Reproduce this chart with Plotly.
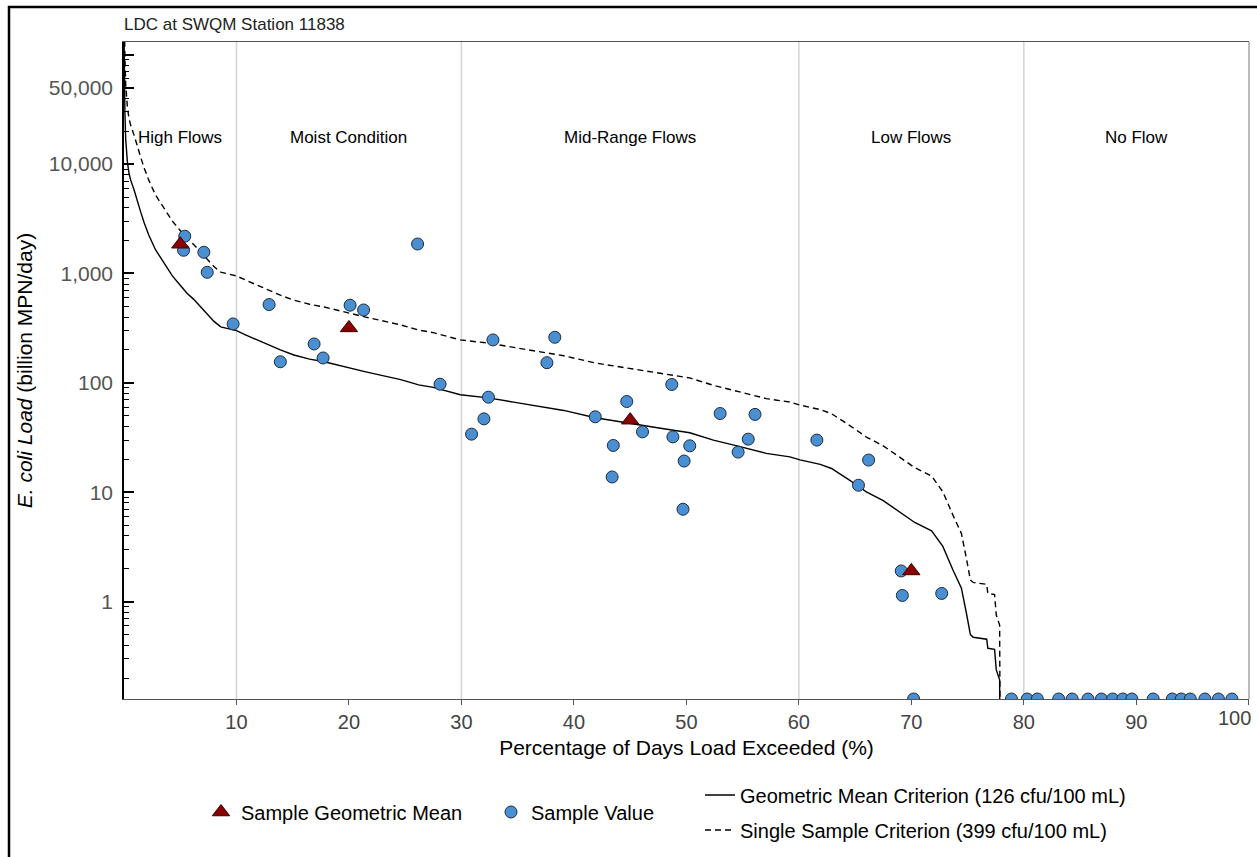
import numpy as np
import plotly.graph_objects as go

# ---------------- data ----------------
curve_pct = [0.0, 0.03, 0.08, 0.15, 0.3, 0.45, 0.6, 0.9, 1.2, 1.5, 1.8, 2.2, 2.8, 3.5, 4.3, 5.0,
             5.6, 6.2, 6.8, 7.3, 7.7, 8.0, 8.6, 9.3, 10.0, 10.8, 11.5, 12.5, 13.9, 15.1, 16.5,
             17.8, 19.0, 20.1, 21.5, 23.4, 24.6, 26.2, 27.5, 29.9, 32.4, 34.9, 37.0, 39.1, 41.9,
             45.0, 47.7, 50.3, 52.4, 54.5, 57.1, 59.2, 60.1, 61.9, 62.9, 64.5, 66.0, 67.5, 69.0,
             70.3, 71.8, 72.8, 73.7, 74.45, 74.9, 75.25, 75.5, 76.7, 76.8, 77.4, 77.55, 77.85, 77.9]

geo_mean_criterion_load = [150000, 60000, 30000, 17000, 10500, 8200, 7100, 5800, 4500, 3600, 2900,
                           2250, 1650, 1270, 950, 780, 660, 580, 500, 440, 395, 365, 325, 310, 300,
                           275, 255, 230, 200, 180, 165, 156, 145, 136, 126, 114, 107, 96, 91, 78,
                           73, 66, 61, 56, 48, 43, 38.5, 35, 30, 26.6, 22.7, 21.1, 19.8, 18, 16.5,
                           12.9, 10.1, 8.4, 6.6, 5.3, 4.45, 3.2, 1.95, 1.33, 0.78, 0.50, 0.473,
                           0.454, 0.375, 0.367, 0.238, 0.193, 0.01]

single_sample_criterion_load = [475000, 190000, 95000, 53800, 33250, 25970, 22490, 18370, 14250,
                                11400, 9180, 7130, 5225, 4020, 3010, 2470, 2090, 1837, 1583, 1395,
                                1250, 1156, 1029, 982, 950, 871, 808, 728, 633, 570, 523, 494, 459,
                                431, 399, 361, 339, 304, 288, 247, 231, 209, 193, 177, 152, 136,
                                122, 111, 95, 84.2, 71.9, 66.8, 62.7, 57, 52.3, 40.9, 32, 26.6,
                                20.9, 16.8, 14.1, 10.1, 6.18, 4.21, 2.47, 1.58, 1.5, 1.44, 1.19,
                                1.16, 0.754, 0.611, 0.0317]

sample_pct = [5.4, 5.3, 7.1, 7.4, 9.7, 12.9, 13.9, 16.9, 17.7, 20.1, 21.3, 26.1, 32.8, 38.3, 37.6,
              28.1, 32.4, 32.0, 30.9, 41.9, 44.7, 43.5, 43.4, 46.1, 48.7, 48.8, 50.3, 49.8, 49.7,
              53.0, 56.1, 55.5, 54.6, 61.6, 66.2, 65.3, 69.1, 69.2, 72.7,
              70.2, 78.9, 80.3, 81.2, 83.1, 84.3, 85.7, 86.9, 87.9, 88.8, 89.6, 91.5, 93.2, 94.0,
              94.8, 96.1, 97.3, 98.5]
sample_load = [2190, 1630, 1563, 1025, 346, 520, 156, 227, 169, 513, 464, 1860, 247, 261, 153,
               97.3, 74, 46.9, 34, 49, 67.6, 26.8, 13.8, 35.7, 96.7, 32.1, 26.6, 19.3, 7.0,
               52.5, 51.5, 30.6, 23.3, 30, 19.7, 11.6, 1.91, 1.14, 1.19,
               0.129, 0.129, 0.129, 0.129, 0.129, 0.129, 0.129, 0.129, 0.129, 0.129, 0.129, 0.129,
               0.129, 0.129, 0.129, 0.129, 0.129, 0.129]

geomean_pct = [5.0, 20.0, 45.0, 70.0]
geomean_load = [1850, 318, 45.6, 1.91]

regime_bounds = [10, 30, 60, 80]
regime_centers = [5, 20, 45, 70, 90]
regime_labels = ["High Flows", "Moist Condition", "Mid-Range Flows", "Low Flows", "No Flow"]
regime_label_level = 17500

x_tickvals = [10, 20, 30, 40, 50, 60, 70, 80, 90, 100]
x_ticktext = ["10", "20", "30", "40", "50", "60", "70", "80", "90", "100"]
y_tickvals = [1, 10, 100, 1000, 10000, 50000, 100000]
y_ticktext = ["1", "10", "100", "1,000", "10,000", "50,000", ""]
y_minor_digits = [2, 3, 4, 5, 6, 7, 8, 9]
y_minor_decades = [0.1, 1, 10, 100, 1000, 10000]
y_min, y_max = 0.129, 130600

# ---------------- figure ----------------
FONT = "Liberation Sans, Arial, sans-serif"
W, H = 1257, 857
ML, MR, MT, MB = 124, 8, 42, 158
PW, PH = W - ML - MR, H - MT - MB


def px_x(p):
    return (p - ML) / PW


def px_y(p):
    return (H - MB - p) / PH


fig = go.Figure()

fig.add_trace(go.Scatter(
    x=curve_pct, y=geo_mean_criterion_load, mode="lines",
    line=dict(color="black", width=1.4),
    name="Geometric Mean Criterion (126 cfu/100 mL)", legend="legend3", showlegend=True))
fig.add_trace(go.Scatter(
    x=curve_pct, y=single_sample_criterion_load, mode="lines",
    line=dict(color="black", width=1.4, dash="6px,4px"),
    name="Single Sample Criterion (399 cfu/100 mL)", legend="legend4", showlegend=True))
fig.add_trace(go.Scatter(
    x=sample_pct, y=sample_load, mode="markers",
    marker=dict(symbol="circle", size=12, color="#4a8fd1",
                line=dict(color="#1c2c3c", width=1)),
    name="Sample Value", legend="legend2", showlegend=True))
fig.add_trace(go.Scatter(
    x=geomean_pct, y=geomean_load, mode="markers",
    marker=dict(symbol="triangle-up", size=15, color="#8b0000",
                line=dict(color="#3a0000", width=1)),
    name="Sample Geometric Mean", legend="legend", showlegend=True))

shapes = []
for b in regime_bounds:
    shapes.append(dict(type="line", xref="x", yref="paper", x0=b, x1=b, y0=0, y1=1,
                       line=dict(color="#d4d4d4", width=1.5), layer="below"))
# right frame of plot area
shapes.append(dict(type="line", xref="paper", yref="paper", x0=1, x1=1, y0=0, y1=1,
                   line=dict(color="#777777", width=1)))
# outer border
shapes.append(dict(type="rect", xref="paper", yref="paper",
                   x0=px_x(9), x1=px_x(1263), y0=px_y(863), y1=px_y(7),
                   line=dict(color="black", width=2.5)))

annotations = []
for xc, lab in zip(regime_centers, regime_labels):
    annotations.append(dict(x=xc, y=np.log10(regime_label_level), xref="x", yref="y",
                            text=lab, showarrow=False,
                            font=dict(family=FONT, size=17, color="black")))
# last x tick label sits shifted left so it stays inside the figure
annotations.append(dict(x=x_tickvals[-1], y=0, xref="x", yref="paper", text=x_ticktext[-1],
                        xanchor="center", yanchor="top", xshift=-14, yshift=-6,
                        showarrow=False, font=dict(family=FONT, size=20, color="#444444")))

legend_common = dict(orientation="v", xanchor="left", yanchor="middle",
                     bgcolor="rgba(0,0,0,0)", borderwidth=0,
                     font=dict(family=FONT, size=20, color="black"))

fig.update_layout(
    width=W, height=H, autosize=False, showlegend=True,
    margin=dict(l=ML, r=MR, t=MT, b=MB),
    paper_bgcolor="white", plot_bgcolor="white",
    font=dict(family=FONT, color="black"),
    title=dict(text="LDC at SWQM Station 11838", x=ML / W, xanchor="left", xref="container",
               y=1 - 24 / H, yanchor="middle", font=dict(family=FONT, size=17, color="#222222")),
    shapes=shapes, annotations=annotations,
    legend=dict(x=px_x(201), y=px_y(812), **legend_common),
    legend2=dict(x=px_x(491), y=px_y(812), **legend_common),
    legend3=dict(x=px_x(700), y=px_y(795), **legend_common),
    legend4=dict(x=px_x(700), y=px_y(830), **legend_common),
    xaxis=dict(range=[0, 100.02], showline=True, linecolor="#555555", linewidth=1, mirror=True,
               ticks="outside", ticklen=5, tickcolor="#555555", tickwidth=1,
               tickvals=x_tickvals, ticktext=x_ticktext[:-1] + [""],
               showgrid=False, zeroline=False,
               tickfont=dict(family=FONT, size=20, color="#444444"),
               title=dict(text="Percentage of Days Load Exceeded (%)", standoff=8,
                          font=dict(family=FONT, size=21, color="black"))),
    yaxis=dict(type="log", range=[np.log10(y_min), np.log10(y_max)], showline=True,
               linecolor="black", linewidth=1.5, ticks="inside", ticklen=10,
               tickcolor="black", tickwidth=1.5, tickvals=y_tickvals, ticktext=y_ticktext,
               showgrid=False, zeroline=False, ticklabelstandoff=5,
               tickfont=dict(family=FONT, size=21, color="#555555"),
               minor=dict(ticks="inside", ticklen=5, tickcolor="black", tickwidth=1,
                          tickvals=[d * k for k in y_minor_decades for d in y_minor_digits],
                          showgrid=False),
               title=dict(text="<i>E. coli Load</i> (billion MPN/day)", standoff=10,
                          font=dict(family=FONT, size=21, color="black"))),
)

fig.write_html("out.html")
